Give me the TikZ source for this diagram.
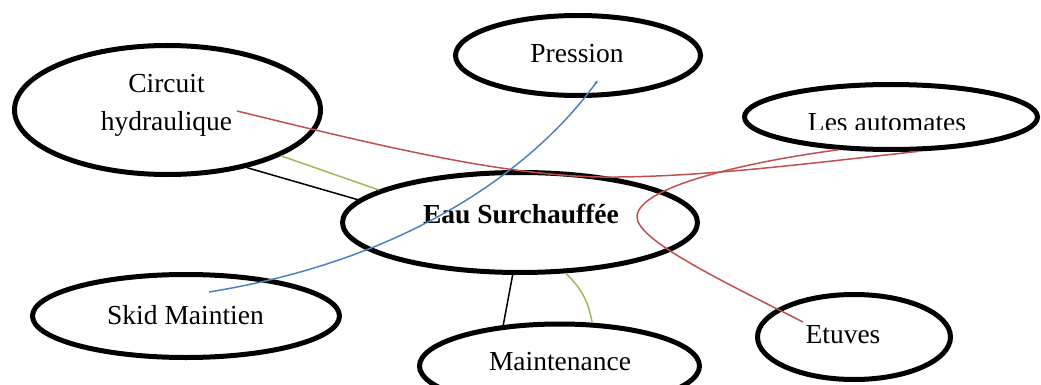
\documentclass[tikz,border=0pt]{standalone}
\usepackage{fontspec}
\setmainfont{Liberation Serif}
\usetikzlibrary{shapes.geometric,calc,arrows.meta}
\definecolor{cred}{HTML}{C0504D}
\definecolor{cblue}{HTML}{4F81BD}
\definecolor{cgreen}{HTML}{9BBB59}
\tikzset{
  oval/.style={ellipse, draw=black, line width=5pt, inner sep=0pt, fill=none},
  lbl/.style={anchor=base, inner sep=0pt, font=\fontsize{27.5}{33}\selectfont},
  conn/.style={line width=1.5pt},
}
\begin{document}
\begin{tikzpicture}[x=1pt,y=-1pt]
\useasboundingbox (0,0) rectangle (1041,385);
% ellipses
\node[oval, minimum width=306pt, minimum height=129pt] (circuit) at (167.5,110) {};
\node[oval, minimum width=245pt, minimum height=80pt] (pression) at (578,55.5) {};
\node[oval, minimum width=293pt, minimum height=65pt] (automates) at (891,117) {};
\node[oval, minimum width=355pt, minimum height=100pt] (eau) at (520,222.5) {};
\node[oval, minimum width=307pt, minimum height=83pt] (skid) at (186,316) {};
\node[oval, minimum width=280pt, minimum height=84pt] (maint) at (559.5,366) {};
\node[oval, minimum width=193pt, minimum height=85pt] (etuves) at (854,337) {};
% texts
\node[lbl] (t-circuit1) at (166.5,93) {Circuit};
\node[lbl] (t-circuit2) at (166.5,131) {hydraulique};
\node[lbl] (t-pression) at (577,63) {Pression};
\begin{scope}
\clip (700,60) rectangle (1041,129.3);
\node[lbl] (t-automates) at (887,131.5) {Les automates};
\end{scope}
\node[lbl, font=\fontsize{27.5}{33}\selectfont\bfseries] (t-eau) at (521,223) {Eau Surchauffée};
\node[lbl] (t-skid) at (185.5,324) {Skid Maintien};
\node[lbl] (t-maint) at (560,370) {Maintenance};
\node[lbl] (t-etuves) at (843,343) {Etuves};
% connectors
\draw[conn, black] (circuit.-36) -- (eau.172);
\draw[conn, cgreen] (circuit.-22) -- (eau.167);
\draw[conn, black] (eau.262) -- (maint.144);
\draw[conn, cgreen] (eau.-48) to[bend left=18] (maint.53);
\draw[conn, cblue, -{Latex[length=4pt,width=3.5pt]}] ($(skid.center)+(23,-24)$) .. controls (420,258) and (540,160) .. ($(pression.center)+(20,24.5)$);
\draw[conn, cred] ($(circuit.center)+(69.5,1)$) .. controls (380,146) and (500,175) .. (600,177) .. controls (700,178) and (820,162) .. (automates.-52);
\draw[conn, cred] (automates.212) .. controls (760,160) and (637,185) .. (637,217) .. controls (637,240) and (720,280) .. ($(etuves.center)+(-51,-15)$);
\end{tikzpicture}
\end{document}
